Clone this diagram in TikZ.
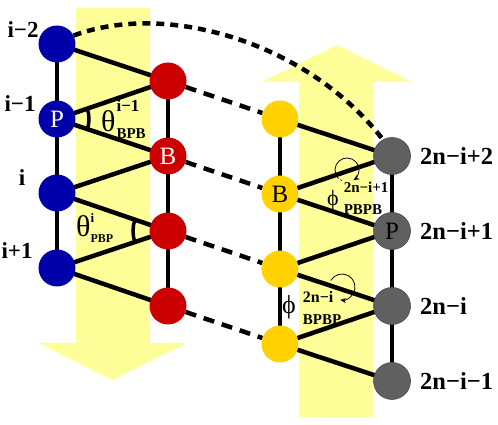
\documentclass[tikz,border=0pt]{standalone}
\usepackage{fontspec}
\setmainfont{Liberation Serif}
\usetikzlibrary{arrows.meta}
\definecolor{pblue}{RGB}{0,0,170}
\definecolor{bred}{RGB}{204,0,0}
\definecolor{bgold}{RGB}{255,210,0}
\definecolor{pgray}{RGB}{96,96,96}
\definecolor{bandc}{RGB}{255,255,153}
\newcommand\sclbl[2]{{\fontsize{#1}{#1}\selectfont\bfseries #2}}
\pgfdeclarelayer{bg}
\pgfsetlayers{bg,main}
\begin{document}
\begin{tikzpicture}[x=1pt,y=1pt,
  atom/.style={circle,minimum size=37pt,inner sep=0pt,font=\fontsize{25}{25}\selectfont},
  pnode/.style={atom,fill=pblue,text=white},
  bnode/.style={atom,fill=bred,text=white},
  ynode/.style={atom,fill=bgold},
  gnode/.style={atom,fill=pgray,draw=black!70,line width=0.6pt},
  bond/.style={line width=4.5pt},
  chain/.style={line width=4pt},
  link/.style={line width=4.5pt,dash pattern=on 11pt off 8pt},
  farlink/.style={line width=4.5pt,dash pattern=on 8pt off 6pt},
  idx/.style={font=\fontsize{23}{23}\selectfont\bfseries,inner sep=0pt},
  ridx/.style={font=\fontsize{24.5}{24.5}\selectfont\bfseries,anchor=west,inner sep=0pt},
  anglearc/.style={line width=3.5pt},
  twist/.style={line width=0.8pt,-{Stealth[length=6pt,width=5pt]}},
  glabel/.style={anchor=base west,inner sep=0pt},
]
\useasboundingbox (0,0) rectangle (498,425);
% nodes
\node[pnode] (b1) at (57,381) {};
\node[pnode] (b2) at (57,306) {P};
\node[pnode] (b3) at (57,232) {};
\node[pnode] (b4) at (57,157) {};
\node[bnode] (r1) at (168,344) {};
\node[bnode] (r2) at (168,269) {B};
\node[bnode] (r3) at (168,194) {};
\node[bnode] (r4) at (168,119) {};
\node[ynode] (y1) at (280,306) {};
\node[ynode] (y2) at (280,231) {B};
\node[ynode] (y3) at (280,156) {};
\node[ynode] (y4) at (280,81) {};
\node[gnode] (g1) at (392,269) {};
\node[gnode] (g2) at (392,194) {P};
\node[gnode] (g3) at (392,119) {};
\node[gnode] (g4) at (392,44) {};
\begin{pgfonlayer}{bg}
\fill[bandc] (76,417) -- (150,417) -- (150,82) -- (187,82) -- (112,45) -- (38,82) -- (76,82) -- cycle;
\fill[bandc] (299,8) -- (373,8) -- (373,343) -- (412,343) -- (337,380) -- (262,343) -- (299,343) -- cycle;
\draw[chain] (b1.center) -- (b4.center);
\draw[chain] (r1.center) -- (r4.center);
\draw[chain] (y1.center) -- (y4.center);
\draw[chain] (g1.center) -- (g4.center);
\draw[bond] (b1.center) -- (r1.center) -- (b2.center) -- (r2.center) -- (b3.center) -- (r3.center) -- (b4.center) -- (r4.center);
\draw[bond] (y1.center) -- (g1.center) -- (y2.center) -- (g2.center) -- (y3.center) -- (g3.center) -- (y4.center) -- (g4.center);
\end{pgfonlayer}
% links
\draw[link] (r1) -- (y1);
\draw[link] (r2) -- (y2);
\draw[link] (r3) -- (y3);
\draw[link] (r4) -- (y4);
\draw[farlink] (b1.27) .. controls (170,425) and (310,380) .. (g1.119);
% angles
\draw[anglearc] ([shift={(-18.4:32)}]b2.center) arc[start angle=-18.4,end angle=18.9,radius=32];
\draw[anglearc] ([shift={(161.1:35)}]r3.center) arc[start angle=161.1,end angle=198.4,radius=35];
% twist arrows
\draw[line width=0.6pt,dash pattern=on 2pt off 2pt] ([shift={(245:12)}]347,255) arc[start angle=245,end angle=222,radius=12];
\draw[twist] ([shift={(222:12)}]347,255) arc[start angle=222,end angle=-58,radius=12];
\draw[twist] ([shift={(150:13)}]342,138) arc[start angle=150,end angle=-98,radius=13];
% labels
\node[idx] (li1) at (23,395) {i−2};
\node[idx] (li2) at (20,321) {i−1};
\node[idx] (li3) at (22,247) {i};
\node[idx] (li4) at (17,174) {i+1};
\node[ridx] (lg1) at (420,269) {2n−i+2};
\node[ridx] (lg2) at (420,194) {2n−i+1};
\node[ridx] (lg3) at (420,119) {2n−i};
\node[ridx] (lg4) at (420,44) {2n−i−1};
\node[glabel] (t1) at (101,293) {\fontsize{30}{30}\selectfont θ\hspace{1pt}\makebox[0pt][l]{\raisebox{20pt}{\sclbl{17}{i−1}}}\raisebox{-7pt}{\sclbl{15}{BPB}}};
\node[glabel] (t2) at (76,188) {\fontsize{30}{30}\selectfont θ\makebox[0pt][l]{\raisebox{14pt}{\sclbl{13}{i}}}\raisebox{-6pt}{\sclbl{12}{PBP}}};
\node[glabel] (p1) at (327,219) {\fontsize{22}{22}\selectfont ϕ\hspace{5pt}\makebox[0pt][l]{\raisebox{13pt}{\sclbl{15}{2n−i+1}}}\raisebox{-9pt}{\sclbl{15}{PBPB}}};
\node[glabel] (p2) at (282,111) {\fontsize{26}{26}\selectfont ϕ\hspace{7pt}\makebox[0pt][l]{\raisebox{11pt}{\sclbl{16}{2n−i}}}\raisebox{-11pt}{\sclbl{15}{BPBP}}};
\end{tikzpicture}
\end{document}
